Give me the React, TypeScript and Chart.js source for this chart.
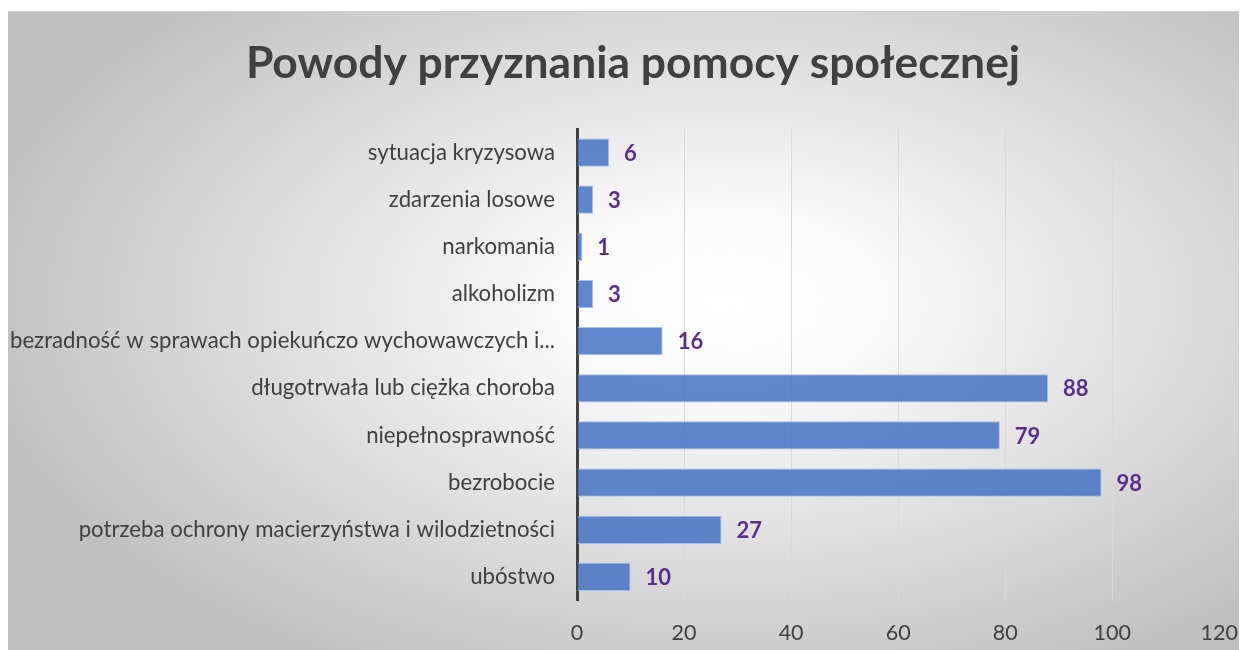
import React, { useEffect, useRef } from "react";
import { Chart, registerables } from "chart.js";

Chart.register(...registerables);

const chartTitle = "Powody przyznania pomocy społecznej";
const categories = [
  "sytuacja kryzysowa",
  "zdarzenia losowe",
  "narkomania",
  "alkoholizm",
  "bezradność w sprawach opiekuńczo wychowawczych i...",
  "długotrwała lub ciężka choroba",
  "niepełnosprawność",
  "bezrobocie",
  "potrzeba ochrony macierzyństwa i wilodzietności",
  "ubóstwo",
];
const values = [6, 3, 1, 3, 16, 88, 79, 98, 27, 10];
const xMin = 0;
const xMax = 120;
const xStep = 20;

const FONT = "Lato, 'Open Sans', sans-serif";
const W = 1250;
const H = 650;
const PLOT_BOTTOM = 589.5;

const bgPlugin = {
  id: "bgGradient",
  beforeDraw(chart: any) {
    const ctx = chart.ctx;
    const cx = 712;
    const cy = 290;
    const rx = 760;
    const ry = 420;
    ctx.save();
    ctx.fillStyle = "#c0c0c0";
    ctx.fillRect(0, 0, W, H);
    ctx.translate(cx, cy);
    ctx.scale(1, ry / rx);
    const g = ctx.createRadialGradient(0, 0, 0, 0, 0, rx);
    g.addColorStop(0, "#ffffff");
    g.addColorStop(0.2, "#fbfbfb");
    g.addColorStop(1, "#c0c0c0");
    ctx.fillStyle = g;
    ctx.fillRect(-cx - 10, (-cy - 10) * (rx / ry), W + 20, (H + 20) * (rx / ry));
    ctx.restore();
    ctx.save();
    ctx.strokeStyle = "#d0d0d0";
    ctx.lineWidth = 1;
    ctx.beginPath();
    ctx.moveTo(0, 0.5);
    ctx.lineTo(W, 0.5);
    ctx.stroke();
    ctx.restore();
  },
};

const titlePlugin = {
  id: "customTitle",
  afterDraw(chart: any) {
    const ctx = chart.ctx;
    ctx.save();
    ctx.fillStyle = "#404040";
    ctx.font = `bold 44.4px ${FONT}`;
    ctx.textAlign = "center";
    ctx.textBaseline = "middle";
    ctx.fillText(chartTitle, 625, 53);
    ctx.restore();
  },
};

const labelPlugin = {
  id: "valueLabels",
  afterDatasetsDraw(chart: any) {
    const ctx = chart.ctx;
    const meta = chart.getDatasetMeta(0);
    ctx.save();
    ctx.fillStyle = "#5B2D8F";
    ctx.font = `bold 22px ${FONT}`;
    ctx.textAlign = "left";
    ctx.textBaseline = "middle";
    meta.data.forEach((bar: any, i: number) => {
      ctx.fillText(String(values[i]), bar.x + 15, bar.y + 1);
    });
    ctx.restore();
  },
};

export default function App() {
  const ref = useRef<HTMLCanvasElement | null>(null);
  useEffect(() => {
    if (!ref.current) return;
    const chart = new Chart(ref.current, {
      type: "bar",
      data: {
        labels: categories,
        datasets: [
          {
            data: values,
            backgroundColor: "rgba(68,114,196,0.85)",
            borderColor: "rgba(160,185,228,0.9)",
            borderWidth: 1,
            barPercentage: 0.6,
            categoryPercentage: 1,
          },
        ],
      },
      plugins: [bgPlugin, titlePlugin, labelPlugin],
      options: {
        indexAxis: "y",
        responsive: false,
        animation: false,
        events: [],
        layout: { padding: { top: 118, right: 30, bottom: 0, left: 0 } },
        plugins: {
          legend: { display: false },
          title: { display: false },
          tooltip: { enabled: false },
        },
        scales: {
          x: {
            min: xMin,
            max: xMax,
            ticks: {
              stepSize: xStep,
              color: "#404040",
              font: { family: FONT, size: 21.5 },
              padding: 20,
            },
            grid: {
              color: (c: any) => (c.tick && c.tick.value === xMax ? "rgba(0,0,0,0)" : "#d9d9d9"),
              lineWidth: 1,
              drawTicks: false,
            },
            border: { display: false },
            afterFit(scale: any) {
              scale.height = H - PLOT_BOTTOM;
            },
          },
          y: {
            ticks: {
              color: "#404040",
              font: { family: FONT, size: 22.2 },
              padding: 22,
              autoSkip: false,
            },
            grid: { display: false, drawTicks: false },
            border: { display: true, color: "#404040", width: 3 },
            afterFit(scale: any) {
              scale.width = 569;
            },
          },
        },
      },
    } as any);
    return () => chart.destroy();
  }, []);
  return (
    <div style={{ paddingTop: 3, width: 1239, height: 639, overflow: "hidden" }}>
      <canvas ref={ref} width={W} height={H} style={{ display: "block", width: W, height: H }} />
    </div>
  );
}
